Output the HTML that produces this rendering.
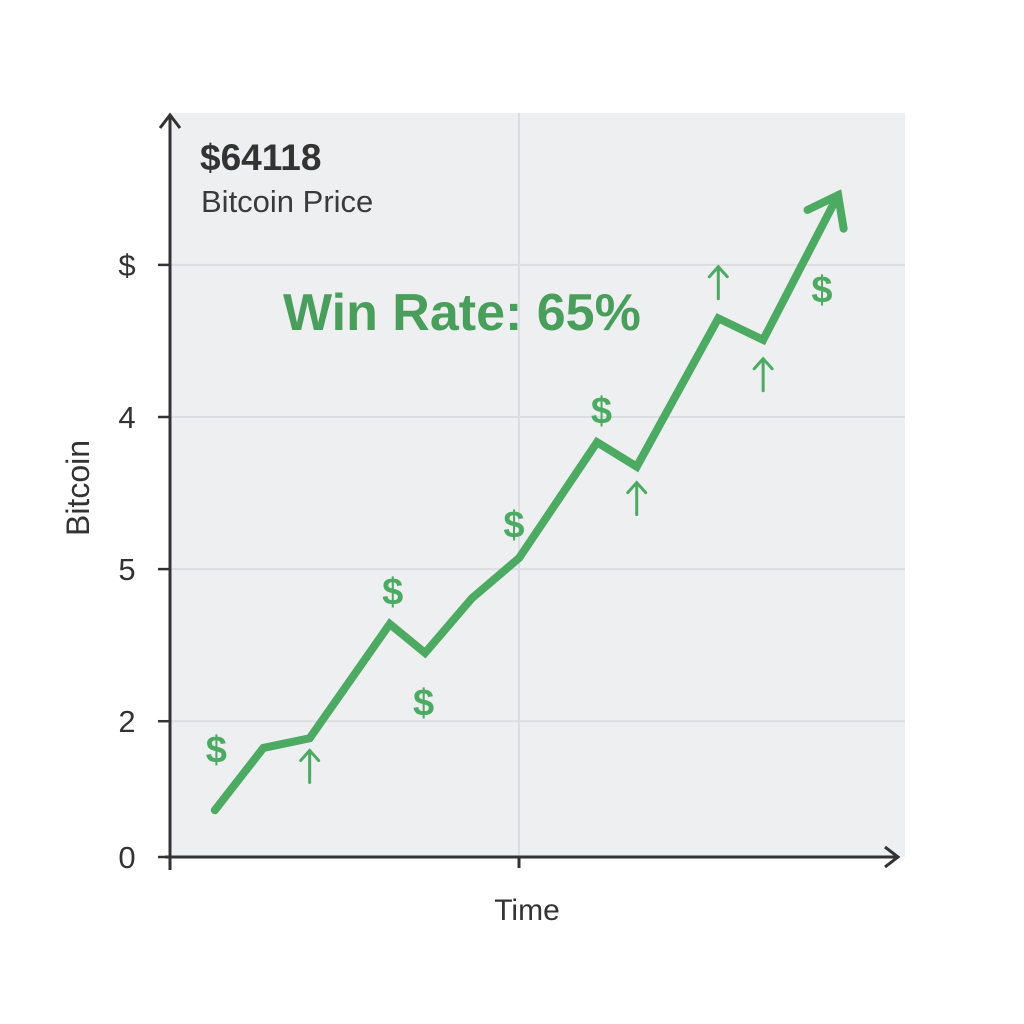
<!DOCTYPE html>
<html><head><meta charset="utf-8"><style>
html,body{margin:0;padding:0;background:#fff;}
svg{display:block;font-family:"Liberation Sans",sans-serif;}
</style></head><body>
<svg id="chart" width="1024" height="1024" viewBox="0 0 1024 1024">
<rect x="170" y="113" width="735" height="744" fill="#eeeff0"/>
<g id="grid"></g>
<g id="axes"></g>
<g id="series"></g>
<g id="annot"></g>
<text x="200" y="170" font-size="37" font-weight="bold" fill="#333">$64118</text>
<text x="201" y="212" font-size="31" fill="#3a3a3a">Bitcoin Price</text>
<text x="283" y="330" font-size="52" font-weight="bold" fill="#4a9e5c">Win Rate: 65%</text>
<text transform="translate(89,488) rotate(-90)" text-anchor="middle" font-size="32" fill="#333">Bitcoin</text>
<text x="527" y="920" text-anchor="middle" font-size="30" fill="#333">Time</text>
</svg>
<script>
const times=[6.1,12.7,19.0,29.9,34.7,41.1,47.5,58.1,63.5,74.6,80.7,90.9];
const prices=[6.3,14.7,16.0,31.4,27.5,34.9,40.3,55.9,52.6,72.6,69.7,89.2];
const yTickVals=[0,18.3,38.8,59.3,79.8];
const yTickLabels=["0","2","5","4","$"];
const dollarT=[6.3,30.3,34.5,46.8,58.7,88.7];
const dollarP=[14.5,35.8,20.8,44.8,60.2,76.5];
const upT=[19.0,63.5,74.6,80.7];
const upP=[12.2,48.3,77.4,65.0];
const NS="http://www.w3.org/2000/svg";
const xs=t=>170+t*7.35, ys=v=>857-v*7.42;
function mk(tag,parent,attrs){const e=document.createElementNS(NS,tag);for(const k in attrs)e.setAttribute(k,attrs[k]);document.getElementById(parent).appendChild(e);return e;}
yTickVals.forEach((v,i)=>{
  if(v>0){const g=mk('line','grid',{x1:170,x2:905,y1:ys(v),y2:ys(v),stroke:'#dcdde0','stroke-width':2});
  
  }
  const tk=mk('line','axes',{x1:158,x2:170,y1:ys(v),y2:ys(v),stroke:'#333','stroke-width':2.5});
  
  
  const t=mk('text','axes',{x:127,y:ys(v)+11,'text-anchor':'middle','font-size':31,fill:'#333'});
  t.textContent=yTickLabels[i];
  
  
});
const vg=mk('line','grid',{x1:519,x2:519,y1:113,y2:857,stroke:'#dcdde0','stroke-width':2});


const ya=mk('path','axes',{d:'M170,870 L170,115 M160,128 L170,115 L180,128',stroke:'#333','stroke-width':3,fill:'none'});


const xa=mk('path','axes',{d:'M165,857 L898,857 M885,847 L898,857 L885,867 M519,857 L519,868 M170,857 L170,868',stroke:'#333','stroke-width':3,fill:'none'});


const pts=times.map((t,i)=>[xs(t),ys(prices[i])]);
const ln=mk('polyline','series',{points:pts.map(p=>p.join(',')).join(' '),fill:'none',stroke:'#4caa62','stroke-width':8,'stroke-linejoin':'miter','stroke-linecap':'round'});


const [ax,ay]=pts[pts.length-1],[bx,by]=pts[pts.length-2];
const ang=Math.atan2(ay-by,ax-bx),L=34;
const hd=`M${ax+L*Math.cos(ang+2.5)},${ay+L*Math.sin(ang+2.5)} L${ax},${ay} L${ax+L*Math.cos(ang-2.5)},${ay+L*Math.sin(ang-2.5)}`;
const ah=mk('path','series',{d:hd,fill:'none',stroke:'#4caa62','stroke-width':8,'stroke-linecap':'round','stroke-linejoin':'miter'});


dollarT.forEach((t,i)=>{
  const d=mk('text','annot',{x:xs(t),y:ys(dollarP[i])+13,'text-anchor':'middle','font-size':38,'font-weight':'bold',fill:'#4caa62'});
  d.textContent='$';
  
  
});
upT.forEach((t,i)=>{
  const x=xs(t),y=ys(upP[i]);
  const a=mk('path','annot',{d:`M${x},${y+16} L${x},${y-16} M${x-9},${y-6} L${x},${y-16} L${x+9},${y-6}`,stroke:'#4caa62','stroke-width':3,fill:'none','stroke-linecap':'round'});
  
  
});
</script>
</body></html>
